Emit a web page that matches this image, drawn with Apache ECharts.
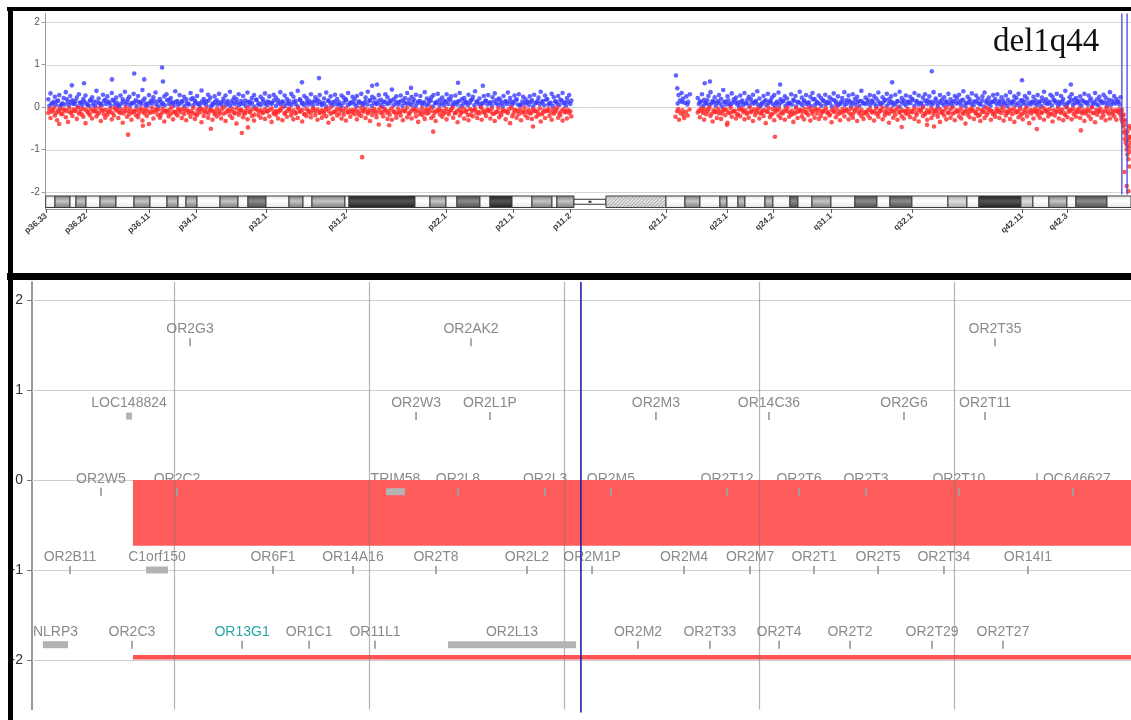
<!DOCTYPE html>
<html><head><meta charset="utf-8">
<script src="https://cdn.jsdelivr.net/npm/echarts@6/dist/echarts.min.js"></script>
<style>html,body{margin:0;padding:0;background:#fff}#c{width:1131px;height:720px}</style>
</head><body><div id="c"></div>
<script>
// ================= DATA =================
// --- Top panel: log2 ratio along chromosome 1 (x in Mb) ---
const pArmSpan = [0.6, 120.6];      // probe set A, evenly along p arm
const pArmSpanB = [0.85, 120.35];   // probe set B, p arm
const qArmSpan = [149.6, 246.6];    // probe set A, q arm
const qArmSpanB = [149.85, 246.35]; // probe set B, q arm
// values in hundredths of log2 ratio
const pBlue = [
18,32,9,24,14,28,6,21,35,12,26,16,8,22,30,11,19,27,5,15,
23,13,38,20,7,29,17,25,10,33,14,22,4,27,18,36,12,24,9,31,
16,26,11,40,20,8,28,15,23,34,13,19,6,25,30,17,21,10,37,14,
28,12,24,18,7,33,21,15,26,9,39,19,13,29,22,5,25,16,31,11,
20,27,14,36,10,23,18,30,8,26,15,34,12,21,28,17,6,24,19,32,
13,25,9,29,22,16,35,11,27,19,7,31,24,14,38,18,10,26,21,15,
30,12,23,17,28,8,20,34,14,25,11,29,19,6,27,22,16,33,10,24,
18,26,13,31,9,22,36,15,24,20,7,28,17,12,30,23,14,41,19,25,
11,27,16,21,33,8,24,18,29,13,26,10,35,20,15,23,28,9,31,17,
22,14,30,19,25,7,27,12,33,18,21,10,29,16,24,37,13,20,8,26,
15,28,11,23,32,17,20,9,26,14,34,21,12,27,18,30,6,24,19,13,
25,16,29,10,22,36,14,27,19,8,31,23,13,26,17,33,11,21,28,15];
const pBlueB = [
3,8,12,5,15,2,9,6,18,4,11,7,14,1,10,5,13,8,3,16,
6,2,11,9,4,14,7,12,3,17,5,10,1,8,13,6,19,4,9,11,
2,12,7,15,5,3,10,8,14,6,1,13,9,4,16,7,11,3,12,5,
8,14,2,10,6,18,4,11,7,3,13,9,5,15,1,8,12,6,10,4,
13,5,9,2,16,7,11,4,14,8,3,12,6,10,1,17,9,5,13,7,
4,11,8,15,3,10,6,13,2,9,14,5,12,7,1,16,8,4,11,6,
10,3,14,7,12,5,9,1,15,8,4,13,6,11,2,10,18,5,8,12,
7,2,11,9,4,13,6,16,3,10,8,14,5,1,12,7,9,15,4,11,
6,13,3,10,8,17,5,12,2,9,14,6,11,4,7,15,1,10,13,5,
9,4,12,7,16,3,11,6,14,2,8,13,5,10,18,4,12,7,1,9,
14,6,10,3,13,8,5,15,2,11,7,12,4,9,16,6,3,13,8,10,
5,12,1,9,14,7,11,4,17,6,10,2,13,8,5,15,9,3,12,7];
const pRed = [
-14,-26,-8,-20,-31,-11,-17,-6,-24,-35,-13,-21,-9,-28,-16,-4,-23,-38,-12,-19,
-27,-10,-22,-15,-33,-7,-25,-18,-12,-29,-20,-5,-26,-14,-37,-9,-23,-17,-30,-11,
-19,-24,-8,-32,-15,-21,-40,-11,-27,-6,-18,-25,-13,-34,-9,-22,-16,-29,-12,-20,
-7,-26,-17,-31,-10,-23,-14,-28,-19,-5,-36,-21,-12,-25,-8,-30,-17,-22,-11,-27,
-16,-33,-9,-20,-26,-13,-39,-18,-7,-24,-15,-29,-11,-21,-32,-6,-19,-25,-14,-28,
-10,-22,-35,-12,-18,-27,-8,-31,-16,-23,-5,-20,-29,-13,-26,-9,-34,-17,-21,-12,
-24,-7,-19,-30,-14,-25,-10,-22,-37,-16,-28,-11,-20,-6,-27,-18,-32,-13,-23,-9,
-17,-29,-12,-21,-8,-26,-15,-33,-19,-10,-24,-41,-14,-22,-7,-28,-18,-30,-11,-25,
-13,-20,-31,-9,-24,-16,-27,-6,-22,-35,-12,-19,-28,-15,-8,-26,-21,-33,-10,-18,
-23,-11,-29,-17,-7,-25,-14,-36,-20,-12,-27,-9,-31,-18,-22,-5,-26,-15,-30,-13,
-21,-8,-27,-16,-33,-12,-24,-19,-10,-29,-14,-38,-22,-7,-25,-17,-31,-11,-20,-26,
-15,-28,-10,-23,-18,-34,-13,-26,-9,-21,-30,-16,-7,-25,-19,-32,-12,-27,-14,-22];
const pRedB = [
-5,-11,-2,-14,-8,-4,-16,-7,-10,-3,-13,-6,-9,-1,-12,-18,-5,-8,-15,-4,
-10,-6,-13,-2,-9,-17,-7,-11,-4,-14,-3,-8,-12,-6,-15,-1,-10,-5,-13,-9,
-7,-16,-3,-11,-5,-9,-14,-2,-12,-8,-6,-19,-4,-10,-13,-7,-1,-11,-15,-5,
-12,-4,-9,-6,-14,-10,-2,-17,-8,-13,-5,-11,-3,-15,-7,-9,-12,-4,-16,-6,
-1,-13,-8,-10,-5,-15,-3,-11,-7,-14,-9,-2,-12,-6,-18,-4,-10,-8,-13,-5,
-11,-7,-3,-16,-9,-12,-6,-1,-14,-10,-4,-13,-8,-15,-2,-11,-7,-17,-5,-9,
-14,-3,-10,-6,-12,-8,-15,-4,-9,-1,-13,-11,-5,-16,-7,-10,-3,-12,-8,-14,
-6,-9,-18,-2,-11,-5,-13,-7,-10,-4,-15,-8,-1,-12,-6,-14,-9,-3,-11,-16,
-4,-13,-7,-10,-2,-15,-9,-5,-12,-8,-17,-3,-11,-6,-14,-1,-10,-13,-7,-5,
-9,-16,-4,-12,-8,-2,-14,-10,-6,-13,-3,-11,-19,-5,-9,-7,-15,-12,-1,-8,
-13,-6,-10,-4,-16,-11,-3,-14,-7,-9,-12,-5,-1,-15,-8,-10,-6,-13,-2,-11,
-7,-14,-5,-9,-12,-3,-17,-8,-10,-4,-13,-6,-11,-2,-15,-9,-5,-12,-7,-10];
const qBlue = [
21,12,30,17,8,26,35,14,23,10,28,19,40,13,25,7,32,18,22,11,
27,15,33,9,24,19,29,12,37,20,6,26,16,31,13,23,28,10,34,18,
14,25,20,8,30,17,26,11,36,22,15,28,9,24,33,19,12,27,21,16,
29,10,23,18,32,13,25,7,21,35,16,27,11,30,19,24,14,38,9,22,
17,28,12,26,20,34,8,23,15,31,18,25,10,29,13,36,21,16,27,11,
24,19,33,14,27,9,22,30,16,25,12,35,20,8,28,17,23,13,31,18,
11,26,21,29,15,37,10,24,18,32,13,27,20,7,25,34,16,22,12,28,
19,30,14,23,9,27,17,35,12,25,21,31,15,8,26,20,33,11,24,16,
28,13,22,36,18,10,29,24,15,31,12,26,19,38,9,23,30,17,21,14,
25,16,31,11,27,20,8,33,18,24,13,29,22,10,35,15,26,19,12,23];
const qBlueB = [
7,13,2,10,16,5,9,12,3,14,8,1,11,6,15,4,10,13,7,2,
12,5,9,17,3,11,8,14,6,1,10,13,4,9,16,7,2,12,5,11,
14,3,8,10,6,15,1,12,9,4,13,7,11,2,18,5,10,8,3,14,
6,12,9,1,16,7,4,11,13,5,8,15,2,10,6,12,3,14,9,7,
11,4,15,8,2,13,6,10,17,3,9,12,5,7,14,1,11,8,4,13,
9,16,3,12,6,10,2,14,7,11,5,8,15,1,13,9,4,12,6,10,
3,14,8,11,5,17,2,9,12,7,4,13,10,6,15,1,11,8,3,12,
13,6,10,4,15,8,2,11,7,14,5,9,1,16,12,3,10,6,13,8,
5,11,2,14,9,7,12,4,16,10,3,8,13,6,1,11,15,5,9,12,
8,3,13,10,6,15,1,12,7,4,14,9,11,2,17,5,10,8,13,6];
const qRed = [
-13,-24,-9,-30,-17,-6,-21,-34,-11,-26,-15,-28,-8,-19,-37,-14,-23,-10,-27,-18,
-22,-7,-29,-16,-25,-12,-33,-19,-9,-27,-14,-21,-38,-11,-24,-17,-31,-6,-20,-26,
-15,-30,-10,-23,-18,-35,-13,-26,-8,-22,-29,-12,-19,-32,-16,-25,-7,-28,-21,-11,
-27,-14,-20,-36,-9,-24,-17,-31,-12,-22,-6,-29,-18,-25,-10,-33,-15,-21,-28,-13,
-19,-26,-11,-32,-16,-23,-8,-29,-20,-14,-37,-10,-25,-18,-30,-12,-22,-27,-9,-17,
-24,-12,-28,-19,-34,-7,-21,-15,-30,-11,-26,-18,-9,-23,-35,-14,-20,-29,-13,-25,
-16,-31,-10,-22,-27,-13,-39,-18,-24,-8,-28,-15,-21,-33,-11,-26,-19,-6,-30,-17,
-23,-9,-26,-14,-32,-20,-12,-28,-17,-35,-10,-24,-19,-29,-13,-22,-38,-15,-27,-11,
-18,-25,-13,-30,-8,-22,-16,-34,-20,-11,-27,-14,-31,-19,-24,-7,-29,-17,-23,-12,
-26,-15,-33,-10,-21,-28,-14,-36,-18,-9,-25,-20,-31,-12,-27,-16,-22,-30,-13,-19];
const qRedB = [
-9,-3,-14,-6,-11,-1,-16,-8,-12,-4,-10,-15,-5,-7,-13,-2,-11,-9,-17,-6,
-4,-12,-8,-14,-1,-10,-6,-13,-3,-15,-9,-7,-11,-2,-18,-5,-12,-8,-4,-14,
-10,-6,-1,-13,-9,-16,-3,-11,-7,-12,-5,-14,-2,-8,-10,-4,-15,-6,-13,-9,
-3,-11,-17,-7,-12,-1,-9,-14,-5,-10,-8,-13,-4,-16,-6,-2,-11,-7,-15,-12,
-8,-5,-13,-10,-3,-14,-9,-1,-12,-6,-16,-4,-11,-8,-2,-13,-7,-10,-15,-5,
-12,-9,-4,-14,-6,-11,-1,-17,-8,-13,-3,-10,-7,-15,-5,-12,-9,-2,-14,-6,
-1,-13,-8,-11,-4,-16,-10,-6,-12,-3,-9,-14,-5,-18,-7,-11,-2,-13,-8,-10,
-15,-4,-12,-7,-1,-10,-14,-6,-9,-3,-13,-11,-5,-16,-8,-2,-12,-7,-10,-4,
-11,-6,-14,-2,-9,-13,-5,-17,-8,-12,-3,-10,-6,-15,-1,-11,-9,-4,-13,-7,
-3,-12,-8,-15,-5,-10,-1,-14,-7,-11,-4,-13,-9,-2,-16,-6,-12,-8,-10,-5];
// proximal q-arm probe cluster [Mb, log2]
const qProxBlue = [[144.6,0.74],[144.9,0.44],[145.2,0.28],[145.5,0.15],[145.9,0.33],[146.2,0.2],[146.6,0.1],[147.0,0.25],[147.4,0.12],[147.8,0.3],[145.0,0.08],[146.0,0.12],[147.2,0.06]];
const qProxRed = [[144.5,-0.23],[144.9,-0.1],[145.3,-0.3],[145.7,-0.15],[146.1,-0.08],[146.5,-0.26],[146.9,-0.12],[147.3,-0.2],[147.7,-0.06],[145.1,-0.05],[146.3,-0.18]];
const blueOutliers = [[6.0,0.51],[8.8,0.56],[15.2,0.65],[20.3,0.79],[22.6,0.65],[26.7,0.93],[26.9,0.60],[58.8,0.58],[62.7,0.68],[74.9,0.50],[76.0,0.53],[83.8,0.45],[94.6,0.57],[100.3,0.50],[151.2,0.56],[152.4,0.60],[168.5,0.53],[194.2,0.58],[203.3,0.84],[224.0,0.63],[235.2,0.53]];
const redOutliers = [[3.1,-0.40],[18.9,-0.65],[22.3,-0.44],[37.9,-0.51],[45.0,-0.61],[46.4,-0.48],[72.6,-1.18],[78.8,-0.43],[88.9,-0.58],[111.8,-0.46],[156.3,-0.42],[167.3,-0.70],[196.4,-0.47],[202.2,-0.42],[203.8,-0.46],[227.4,-0.52],[237.5,-0.55]];
// 1q44 deletion: terminal probes
const deletionTail = [[246.7,-0.12],[246.8,-0.28],[246.9,-0.07],[247.0,-0.35],[247.1,-0.2],[247.2,-0.46],[247.3,-0.3],[247.4,-0.6],[247.5,-0.42],[247.6,-0.75],[247.7,-0.55],[247.8,-0.84],[247.9,-0.66],[248.0,-1.0],[248.1,-0.9],[248.2,-1.12],[248.3,-0.78],[248.4,-1.23],[248.5,-0.95],[248.6,-1.4],[248.7,-0.7],[248.8,-1.05],[247.5,-1.53],[248.0,-1.86],[248.4,-1.98],[248.9,-0.5],[248.9,-0.85],[247.3,-0.18],[247.6,-0.32],[248.2,-0.58],[248.6,-0.45],[248.8,-0.72]];
const selectionBounds = [246.9, 248.1];
const chrLength = 249;
const topYTicks = [-2,-1,0,1,2];
// chromosome 1 ideogram bands [start Mb, end Mb, stain]
const bands = [
[0,2.13,'gneg'],[2.13,5.57,'gpos50'],[5.57,6.95,'gneg'],[6.95,9.25,'gpos50'],[9.25,12.46,'gneg'],[12.46,16.13,'gpos50'],
[16.13,20.26,'gneg'],[20.26,23.93,'gpos50'],[23.93,27.83,'gneg'],[27.83,30.36,'gpos50'],[30.36,32.19,'gneg'],[32.19,34.71,'gpos50'],
[34.71,39.99,'gneg'],[39.99,44.12,'gpos50'],[44.12,46.41,'gneg'],[46.41,50.54,'gpos75'],[50.54,55.82,'gneg'],[55.82,59.03,'gpos50'],
[59.03,61.09,'gneg'],[61.09,68.66,'gpos50'],[68.66,69.58,'gneg'],[69.58,84.72,'gpos100'],[84.72,88.16,'gneg'],[88.16,91.83,'gpos50'],
[91.83,94.36,'gneg'],[94.36,99.63,'gpos75'],[99.63,101.93,'gneg'],[101.93,106.98,'gpos100'],[106.98,111.56,'gneg'],[111.56,116.15,'gpos50'],
[116.15,117.30,'gneg'],[117.30,121.20,'gpos50'],[121.20,128.54,'acen'],[128.54,142.30,'gvar'],[142.30,146.66,'gneg'],[146.66,150.10,'gpos50'],
[150.10,154.69,'gneg'],[154.69,156.30,'gpos50'],[156.30,158.82,'gneg'],[158.82,160.43,'gpos50'],[160.43,165.02,'gneg'],[165.02,166.85,'gpos50'],
[166.85,170.75,'gneg'],[170.75,172.59,'gpos75'],[172.59,175.80,'gneg'],[175.80,180.16,'gpos50'],[180.16,185.67,'gneg'],[185.67,190.71,'gpos75'],
[190.71,193.70,'gneg'],[193.70,198.74,'gpos75'],[198.74,207.00,'gneg'],[207.00,211.36,'gpos25'],[211.36,214.11,'gneg'],[214.11,223.75,'gpos100'],
[223.75,226.50,'gpos25'],[226.50,230.17,'gneg'],[230.17,234.30,'gpos50'],[234.30,236.37,'gneg'],[236.37,243.48,'gpos75'],[243.48,249,'gneg']];
const bandTickPos = [0.1,9.25,23.7,34.5,50.6,68.9,91.8,107.2,120.3,142.3,156.3,166.9,180.2,198.7,224.0,234.3];
const bandTickNames = ['p36.33','p36.22','p36.11','p34.1','p32.1','p31.2','p22.1','p21.1','p11.2','q21.1','q23.1','q24.2','q31.1','q32.1','q42.11','q42.3'];
const panelTitle = 'del1q44';

// --- Bottom panel: zoomed gene track (x in kb, relative) ---
const zoomSpan = [27, 591];
const zoomGridX = [100,200,300,400,500];
const bottomYTicks = [-2,-1,0,1,2];
// [gene, start, end, track row]
const genes = [
['OR2G3',108.1,108.1,1.53],['OR2AK2',252.3,252.3,1.53],['OR2T35',521.2,521.2,1.53],
['LOC148824',75.3,78.3,0.71],['OR2W3',224.1,224.1,0.71],['OR2L1P',262.0,262.0,0.71],['OR2M3',347.2,347.2,0.71],['OR14C36',405.2,405.2,0.71],['OR2G6',474.5,474.5,0.71],['OR2T11',516.1,516.1,0.71],
['OR2W5',62.4,62.4,-0.13],['OR2C2',101.4,101.4,-0.13],['TRIM58',208.7,218.4,-0.13],['OR2L8',245.6,245.6,-0.13],['OR2L3',290.3,290.3,-0.13],['OR2M5',324.1,324.1,-0.13],['OR2T12',383.7,383.7,-0.13],['OR2T6',420.6,420.6,-0.13],['OR2T3',455.0,455.0,-0.13],['OR2T10',502.7,502.7,-0.13],['LOC646627',561.2,561.2,-0.13],
['OR2B11',46.5,46.5,-1.0],['C1orf150',85.5,96.8,-1.0],['OR6F1',150.7,150.7,-1.0],['OR14A16',191.7,191.7,-1.0],['OR2T8',234.3,234.3,-1.0],['OR2L2',281.0,281.0,-1.0],['OR2M1P',314.4,314.4,-1.0],['OR2M4',361.6,361.6,-1.0],['OR2M7',395.5,395.5,-1.0],['OR2T1',428.3,428.3,-1.0],['OR2T5',461.2,461.2,-1.0],['OR2T34',495.0,495.0,-1.0],['OR14I1',538.1,538.1,-1.0],
['NLRP3',32.6,45.5,-1.83],['OR2C3',78.3,78.3,-1.83],['OR13G1',134.8,134.8,-1.83],['OR1C1',169.2,169.2,-1.83],['OR11L1',203.0,203.0,-1.83],['OR2L13',240.5,306.2,-1.83],['OR2M2',338.0,338.0,-1.83],['OR2T33',374.9,374.9,-1.83],['OR2T4',410.4,410.4,-1.83],['OR2T2',446.8,446.8,-1.83],['OR2T29',488.9,488.9,-1.83],['OR2T27',525.3,525.3,-1.83]];
// deletion call: [start, end, log2 depth]
const deletionBlock = [78.8, 591, -0.73];
const deletionBar = [78.8, 591, -1.97];
const cursorPos = 308.7;

// ================= BUILD =================
function placeEven(vals, span){
  const step = (span[1]-span[0])/(vals.length-1); const out=[];
  vals.forEach((v,i)=>{ if(v!=null) out.push([span[0]+i*step, v/100]); });
  return out;
}
const blueData = placeEven(pBlue,pArmSpan).concat(placeEven(pBlueB,pArmSpanB), placeEven(qBlue,qArmSpan), placeEven(qBlueB,qArmSpanB), qProxBlue, blueOutliers);
const redData = placeEven(pRed,pArmSpan).concat(placeEven(pRedB,pArmSpanB), placeEven(qRed,qArmSpan), placeEven(qRedB,qArmSpanB), qProxRed, redOutliers, deletionTail);

const highlightGenes = {'OR13G1':'#2aa6a6'};
const stainFill = {gneg:['#e4e4e4','#ffffff'], gpos25:['#a8a8a8','#dedede'], gpos50:['#7a7a7a','#c4c4c4'],
  gpos75:['#4a4a4a','#8c8c8c'], gpos100:['#1e1e1e','#555555'], gvar:['#cfcfcf','#e6e6e6']};
function grad(c){return {type:'linear',x:0,y:0,x2:0,y2:1,colorStops:[{offset:0,color:c[0]},{offset:0.45,color:c[1]},{offset:1,color:c[0]}]};}
const IDEO_TOP=-2.094, IDEO_BOT=-2.365;

const chart = echarts.init(document.getElementById('c'), null, {renderer:'canvas'});
const option = {
  animation:false,
  backgroundColor:'#fff',
  title:{text:panelTitle,left:988,top:21,textStyle:{fontFamily:'Liberation Serif',fontSize:33,fontWeight:'normal',color:'#111'}},
  grid:[
    {left:45.7,right:0,top:13.5,height:195.5},
    {left:32,right:0,top:282,height:427.5}
  ],
  xAxis:[
    {gridIndex:0,type:'value',min:0,max:chrLength,
     axisLine:{show:true,onZero:false,lineStyle:{color:'#999'}},
     axisTick:{show:true,customValues:bandTickPos,length:4,lineStyle:{color:'#555'}},
     axisLabel:{show:true,customValues:bandTickPos,rotate:40,fontSize:8.5,fontWeight:'bold',color:'#3a3a3a',margin:6,fontFamily:'Liberation Sans',
       formatter:(v)=>{const i=bandTickPos.findIndex(p=>Math.abs(p-v)<1e-6);return i>=0?bandTickNames[i]:'';}},
     splitLine:{show:false}},
    {gridIndex:1,type:'value',min:zoomSpan[0],max:zoomSpan[1],show:false}
  ],
  yAxis:[
    {gridIndex:0,type:'value',min:-2.4,max:2.2,
     axisLine:{show:true,onZero:false,lineStyle:{color:'#999'}},
     axisTick:{show:true,customValues:topYTicks,length:4,lineStyle:{color:'#999'}},
     axisLabel:{customValues:topYTicks,fontSize:10,color:'#555',margin:6,fontFamily:'Liberation Sans'},
     splitLine:{show:false}},
    {gridIndex:1,type:'value',min:-2.55,max:2.2,
     axisLine:{show:true,onZero:false,lineStyle:{color:'#777',width:1.5}},
     axisTick:{show:true,customValues:bottomYTicks,length:5,lineStyle:{color:'#777'}},
     axisLabel:{customValues:bottomYTicks,fontSize:14,color:'#333',margin:9,fontFamily:'Liberation Sans'},
     splitLine:{show:false}}
  ],
  series:[
    {type:'custom',xAxisIndex:0,yAxisIndex:0,z:1,silent:true,data:topYTicks.map(v=>[0,v]),
     renderItem:(params,api)=>{const cs=params.coordSys;const y=Math.round(api.coord([0,api.value(1)])[1])+0.5;
       return {type:'line',shape:{x1:cs.x,y1:y,x2:cs.x+cs.width,y2:y},style:{stroke:'#d6d6d6',lineWidth:1}};}},
    {type:'custom',xAxisIndex:0,yAxisIndex:0,z:2,silent:true,data:bands.map(b=>[b[0],b[1]]),
     renderItem:(params,api)=>{
       const b=bands[params.dataIndex];
       const p0=api.coord([b[0],IDEO_TOP]), p1=api.coord([b[1],IDEO_BOT]);
       const x0=p0[0],x1=p1[0],y0=p0[1],y1=p1[1],h=y1-y0;
       if(b[2]==='acen'){
         const ym=(y0+y1)/2;
         return {type:'group',children:[
           {type:'rect',shape:{x:x0,y:ym-2.5,width:x1-x0,height:5},style:{fill:'#fff',stroke:'#333',lineWidth:1}},
           {type:'rect',shape:{x:(x0+x1)/2-1.5,y:ym-1,width:3,height:2},style:{fill:'#333'}}]};
       }
       const children=[{type:'rect',shape:{x:x0,y:y0,width:x1-x0,height:h},style:{fill:grad(stainFill[b[2]]),stroke:'#3a3a3a',lineWidth:1}}];
       if(b[2]==='gvar'){
         for(let x=x0-h;x<x1;x+=3.5){
           let sx=x,sy=y1,ex=x+h,ey=y0;
           if(sx<x0){sy=y1-(x0-sx);sx=x0;}
           if(ex>x1){ey=y0+(ex-x1);ex=x1;}
           if(ex>sx) children.push({type:'line',shape:{x1:sx,y1:sy,x2:ex,y2:ey},style:{stroke:'#8a8a8a',lineWidth:0.7}});
         }
       }
       return {type:'group',children};
     }},
    {type:'scatter',xAxisIndex:0,yAxisIndex:0,z:3,symbolSize:4.6,data:blueData,itemStyle:{color:'#3c3cff'},silent:true},
    {type:'scatter',xAxisIndex:0,yAxisIndex:0,z:3,symbolSize:4.6,data:redData,itemStyle:{color:'#ff2a2a'},silent:true},
    {type:'custom',xAxisIndex:0,yAxisIndex:0,z:4,silent:true,data:selectionBounds.map(v=>[v,0]),
     renderItem:(params,api)=>{const a=api.coord([api.value(0),2.2]),b=api.coord([api.value(0),-2.06]);
       return {type:'line',shape:{x1:a[0],y1:a[1],x2:b[0],y2:b[1]},style:{stroke:'#4848d8',lineWidth:1.3}};}},
    {type:'custom',xAxisIndex:1,yAxisIndex:1,z:1,silent:true,data:bottomYTicks.map(v=>[zoomSpan[0],v]),
     renderItem:(params,api)=>{const cs=params.coordSys;const y=Math.round(api.coord([zoomSpan[0],api.value(1)])[1])+0.5;
       return {type:'line',shape:{x1:cs.x,y1:y,x2:cs.x+cs.width,y2:y},style:{stroke:'#cfcfcf',lineWidth:1.2}};}},
    {type:'custom',xAxisIndex:1,yAxisIndex:1,z:2,silent:true,
     data:genes.map(g=>({name:g[0],value:[g[1],g[3],g[2]]})),
     renderItem:(params,api)=>{const g=genes[params.dataIndex];
       const s=api.coord([g[1],g[3]]),e=api.coord([g[2],g[3]]);
       return {type:'text',x:(s[0]+e[0])/2,y:s[1]-13,style:{text:g[0],fill:highlightGenes[g[0]]||'#8a8a8a',
         font:'14px "Liberation Sans"',align:'center',verticalAlign:'middle'}};}},
    {type:'custom',xAxisIndex:1,yAxisIndex:1,z:3,silent:true,data:[deletionBlock,deletionBar].map(d=>[d[0],d[2],d[1]]),
     renderItem:(params,api)=>{
       if(params.dataIndex===0){const a=api.coord([deletionBlock[0],0]),b=api.coord([deletionBlock[1],deletionBlock[2]]);
         return {type:'rect',shape:{x:a[0],y:a[1],width:b[0]-a[0],height:b[1]-a[1]},style:{fill:'#ff5c5c'}};}
       const a=api.coord([deletionBar[0],deletionBar[2]]),b=api.coord([deletionBar[1],deletionBar[2]]);
       return {type:'rect',shape:{x:a[0],y:a[1]-2.3,width:b[0]-a[0],height:4.6},style:{fill:'#ff5252'}};}},
    {type:'custom',xAxisIndex:1,yAxisIndex:1,z:4,silent:true,data:zoomGridX.map(v=>[v,0]),
     renderItem:(params,api)=>{const cs=params.coordSys;const x=Math.round(api.coord([api.value(0),0])[0])+0.5;
       return {type:'line',shape:{x1:x,y1:cs.y,x2:x,y2:cs.y+cs.height},style:{stroke:'rgba(120,120,120,0.55)',lineWidth:1.2}};}},
    {type:'custom',xAxisIndex:1,yAxisIndex:1,z:5,silent:true,
     data:genes.map(g=>({name:g[0],value:[g[1],g[3],g[2]]})),
     renderItem:(params,api)=>{const g=genes[params.dataIndex];
       const s=api.coord([g[1],g[3]]),e=api.coord([g[2],g[3]]);
       if(g[2]-g[1]<0.01) return {type:'rect',shape:{x:s[0]-0.9,y:s[1]-4,width:1.8,height:8},style:{fill:'#a0a0a0'}};
       return {type:'rect',shape:{x:s[0],y:s[1]-3.5,width:Math.max(e[0]-s[0],3),height:7},style:{fill:'#b3b3b3'}};}},
    {type:'custom',xAxisIndex:1,yAxisIndex:1,z:6,silent:true,data:[[cursorPos,0]],
     renderItem:(params,api)=>{const cs=params.coordSys;const x=api.coord([api.value(0),0])[0];
       return {type:'line',shape:{x1:x,y1:cs.y,x2:x,y2:cs.y+cs.height+3},style:{stroke:'#1f1fb0',lineWidth:1.6}};}}
  ],
  graphic:[
    {type:'rect',z:100,shape:{x:7,y:7,width:1124,height:4},style:{fill:'#000'}},
    {type:'rect',z:100,shape:{x:7,y:273,width:1124,height:7},style:{fill:'#000'}},
    {type:'rect',z:100,shape:{x:8,y:7,width:5,height:713},style:{fill:'#000'}}
  ]
};
chart.setOption(option);
</script></body></html>
